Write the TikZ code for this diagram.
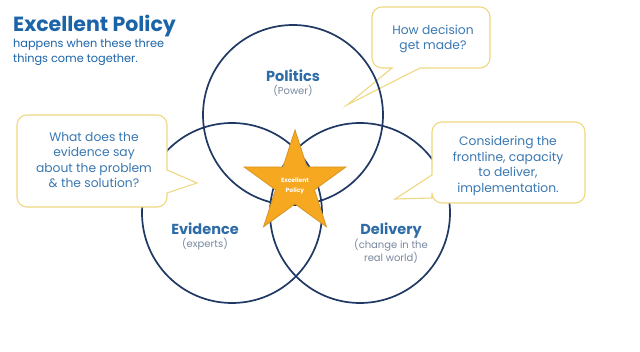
\documentclass[tikz,border=0pt]{standalone}
\usepackage{fontspec}
\setmainfont{Poppins}
\usetikzlibrary{shapes.geometric}
\definecolor{navy}{RGB}{32,56,100}
\definecolor{titleblue}{RGB}{28,100,168}
\definecolor{labelblue}{RGB}{46,108,168}
\definecolor{notegray}{RGB}{120,136,160}
\definecolor{askblue}{RGB}{58,120,178}
\definecolor{bubbleline}{RGB}{238,216,128}
\definecolor{starfill}{RGB}{245,168,32}
\definecolor{starline}{RGB}{214,150,40}

\begin{document}
\begin{tikzpicture}[x=1pt,y=-1pt,ring/.style={circle, draw=navy, line width=1.7pt, minimum size=180pt, inner sep=0pt},bubble/.style={draw=bubbleline, fill=white, line width=1.1pt},ask/.style={align=center, text=askblue, font=\fontsize{12.3}{15.5}\selectfont},head/.style={font=\bfseries\fontsize{14.5}{16}\selectfont, text=labelblue},note/.style={align=center, text=notegray, font=\fontsize{10}{13.5}\selectfont}]
\useasboundingbox[fill=white] (0,0) rectangle (640,352);
\node[anchor=base west, text=titleblue, font=\bfseries\fontsize{20.5}{22}\selectfont, inner sep=0pt] (title) at (13,32) {Excellent Policy};
\node[anchor=west, align=left, text=titleblue, font=\fontsize{11.3}{15}\selectfont, inner sep=0pt] (subtitle) at (13,52) {happens when these three\\things come together.};
% top bubble sits behind the circles
\draw[bubble] (392,68) [rounded corners=10pt] -- (372,68) -- (372,7) -- (490,7) -- (490,68) [sharp corners] -- (420,68) -- (347,105) -- cycle;
\node[ask] (howask) at (433,39) {How decision\\get made?};
\node[ring] (politics) at (293,115) {};\node[ring] (evidence) at (232,213) {};\node[ring] (delivery) at (360,213) {};
\node[head, anchor=base] (politicsname) at (293,82) {Politics};\node[note, anchor=base] (politicsnote) at (293,95) {(Power)};
\node[head, anchor=base] (evidencename) at (205,235) {Evidence};\node[note, anchor=base] (evidencenote) at (205,248) {(experts)};
\node[head, anchor=base] (deliveryname) at (391,235) {Delivery};\node[note] (deliverynote) at (391,251.5) {(change in the\\real world)};
\node[star, star points=5, star point ratio=2.618, minimum size=107pt, inner sep=0pt, fill=starfill, draw=starline, line width=0.8pt] (goal) at (295,183.5) {};
\node[text=white, align=center, font=\bfseries\fontsize{6}{10}\selectfont] (goaltext) at (295,186) {Excellent\\Policy};
\draw[bubble] (167,193) [rounded corners=10pt] -- (167,207) -- (17,207) -- (17,115) -- (167,115) [sharp corners] -- (167,170) -- (197,183) -- cycle;
\node[ask] (evidenceask) at (94,160) {What does the\\evidence say\\about the problem\\\& the solution?};
\draw[bubble] (432,175) [rounded corners=10pt] -- (432,122) -- (585,122) -- (585,203) -- (432,203) [sharp corners] -- (432,198) -- (395,199) -- cycle;
\node[ask] (deliveryask) at (508,166) {Considering the\\frontline, capacity\\to deliver,\\implementation.};
\end{tikzpicture}
\end{document}
